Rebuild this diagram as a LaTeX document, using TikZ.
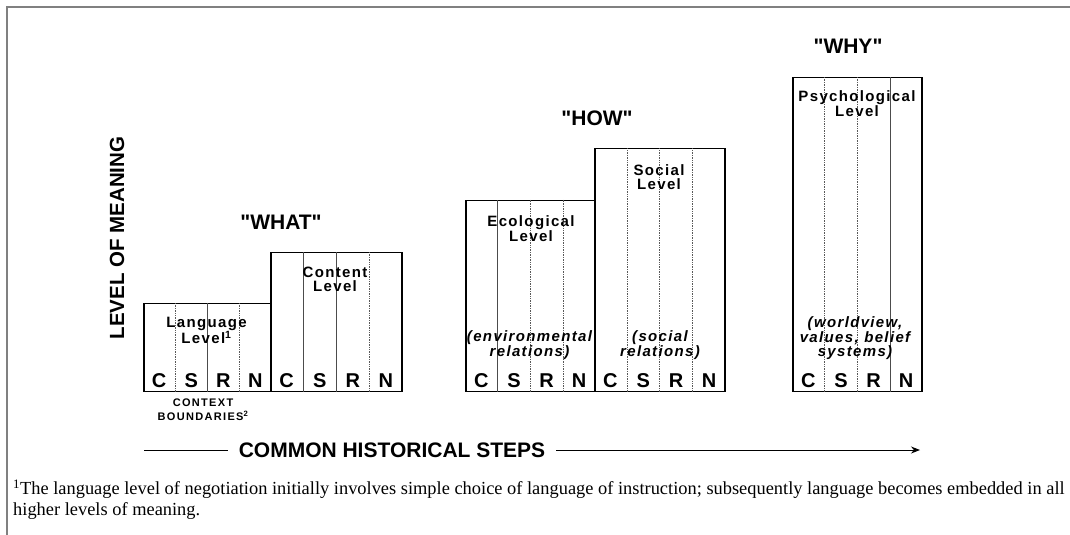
\documentclass[tikz,border=0pt]{standalone}
\usepackage{fontspec}
\setmainfont{Liberation Serif}
\setsansfont{Liberation Sans}
\usetikzlibrary{arrows.meta,calc}
\newfontfamily\hsans{Liberation Sans}
\newfontfamily\lsans{Liberation Sans Bold}[LetterSpace=9]
\newfontfamily\lsansi{Liberation Sans Bold Italic}[LetterSpace=9]
\newfontfamily\ssans{Liberation Sans Bold}[LetterSpace=12]
\tikzset{
  colbox/.style={draw, line width=1.5pt, inner sep=0pt, anchor=south west},
  divd/.style={line width=0.7pt, black!65, densely dotted},
  divs/.style={line width=0.6pt, black!70},
  lett/.style={font=\hsans\bfseries\fontsize{20}{20}\selectfont, inner sep=0pt},
  lab/.style={font=\lsans\fontsize{15}{14}\selectfont, align=center, inner sep=0pt},
  labi/.style={font=\lsansi\fontsize{15}{13.5}\selectfont, align=center, inner sep=0pt},
  ttl/.style={font=\hsans\bfseries\fontsize{21}{21}\selectfont, inner sep=0pt},
}
\begin{document}
\begin{tikzpicture}[x=1pt,y=-1pt]
\useasboundingbox (0,0) rectangle (1070,535);
% frame
\draw[line width=2pt, black!50] (7,535) -- (7,7) -- (1070,7);
% boxes
\foreach \n/\x/\t/\r in {b1/143/304/270, b2/270/253/401, b3/465/201/594, b4/594/149/724, b5/792/78/921}{
  \pgfmathsetmacro\w{\r-\x}
  \pgfmathsetmacro\h{392-\t}
  \node[colbox, minimum width=\w pt, minimum height=\h pt] (\n) at (\x,392) {};
}
% dividers
\foreach \n/\i/\s in {b1/1/divd, b1/2/divs, b1/3/divd,
                      b2/1/divs, b2/2/divs, b2/3/divd,
                      b3/1/divs, b3/2/divd, b3/3/divd,
                      b4/1/divd, b4/2/divd, b4/3/divd,
                      b5/1/divd, b5/2/divd, b5/3/divs}{
  \draw[\s] ($(\n.south west)!{\i/4}!(\n.south east)$) -- ($(\n.north west)!{\i/4}!(\n.north east)$);
}
% letters
\foreach \n in {b1,b2,b3,b4,b5}{
  \foreach \i/\L in {1/C,2/S,3/R,4/N}{
    \node[lett] (\n\L) at ($(\n.south west)!{(\i-0.5)/4}!(\n.south east)+(0,-11)$) {\L};
  }
}
% level labels
\node[lab] (langlab) at (206.5,330.5) {Language\\Level\textsuperscript{1}};
\node[lab] (contlab) at (335,279.5) {Content\\Level};
\node[lab] (ecolab) at (531,228.5) {Ecological\\Level};
\node[lab] (soclab) at (659,177.5) {Social\\Level};
\node[lab] (psylab) at (857,103.5) {Psychological\\Level};
\node[labi] (envlab) at (529.5,345) {(environmental\\relations)};
\node[labi] (srlab) at (660,345) {(social\\relations)};
\node[labi] (wvlab) at (855,338) {(worldview,\\values, belief\\systems)};
% titles
\node[ttl] (what) at (281,222) {"WHAT"};
\node[ttl] (how) at (597,118) {"HOW"};
\node[ttl] (why) at (848,46) {"WHY"};
\node[ttl, font=\hsans\bfseries\fontsize{20.5}{20.5}\selectfont, rotate=90] (lom) at (117,238) {LEVEL OF MEANING};
\node[font=\ssans\fontsize{11}{14}\selectfont, align=center, inner sep=0pt] (ctx) at (203,410) {CONTEXT\\BOUNDARIES\textsuperscript{2}};
% historical steps arrow
\node[ttl, inner sep=11pt] (steps) at (392,450) {COMMON HISTORICAL STEPS};
\coordinate (arrL) at (144,450);
\coordinate (arrR) at (920,450);
\draw[line width=1pt] (arrL) -- (steps.west);
\draw[line width=1pt, -{Stealth[length=9pt,width=7pt]}] (steps.east) -- (arrR);
% footnote
\node[font=\fontsize{18.4}{21}\selectfont, align=left, anchor=west, inner sep=0pt] (foot) at (13,499.5)
  {\textsuperscript{1}The language level of negotiation initially involves simple choice of language of instruction; subsequently language becomes embedded in all\\higher levels of meaning.};
\end{tikzpicture}
\end{document}
